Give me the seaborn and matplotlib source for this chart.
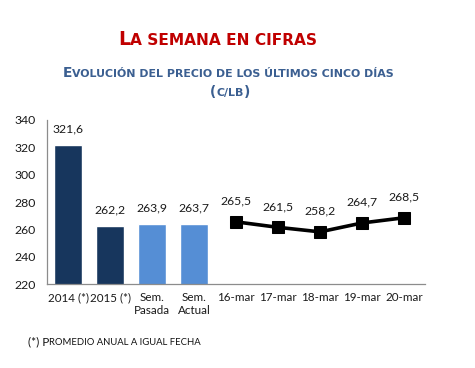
import matplotlib
matplotlib.use("Agg")
import matplotlib.pyplot as plt
import seaborn as sns
import pandas as pd
import numpy as np

# ---- data ----
categories = ["2014 (*)", "2015 (*)", "Sem.\nPasada", "Sem.\nActual",
              "16-mar", "17-mar", "18-mar", "19-mar", "20-mar"]
bar_cats = ["2014 (*)", "2015 (*)", "Sem.\nPasada", "Sem.\nActual"]
bar_values = [321.6, 262.2, 263.9, 263.7]
bar_colors = ["#17365D", "#17365D", "#558ED5", "#558ED5"]
day_cats = ["16-mar", "17-mar", "18-mar", "19-mar", "20-mar"]
day_values = [265.5, 261.5, 258.2, 264.7, 268.5]
yticks = [220, 240, 260, 280, 300, 320, 340]

sns.set_theme(style="white")
plt.rcParams["font.family"] = ["Lato", "DejaVu Sans"]

fig = plt.figure(figsize=(4.75, 3.68), dpi=100)
ax = fig.add_axes([0.099, 0.228, 0.796, 0.446])

df_bars = pd.DataFrame({"cat": bar_cats, "val": bar_values})
sns.barplot(data=df_bars, x="cat", y="val", order=categories, hue="cat",
            hue_order=bar_cats, palette=bar_colors, dodge=False, legend=False,
            width=0.67, saturation=1, ax=ax)

df_line = pd.DataFrame({"x": [categories.index(c) for c in day_cats], "val": day_values})
sns.lineplot(data=df_line, x="x", y="val", color="black", linewidth=2.6,
             marker="s", markersize=8, markeredgecolor="black", ax=ax)

def fmt(v):
    return f"{v:.1f}".replace(".", ",")

for c, v in zip(bar_cats, bar_values):
    ax.annotate(fmt(v), (categories.index(c), v), xytext=(0, 8), textcoords="offset points",
                ha="center", va="bottom", fontsize=8.8, color="#1a1a1a")
for x, v in zip(df_line["x"], day_values):
    ax.annotate(fmt(v), (x, v), xytext=(0, 11), textcoords="offset points",
                ha="center", va="bottom", fontsize=8.8, color="#1a1a1a")

ax.set_ylim(220, 340)
ax.set_xlim(-0.5, len(categories) - 0.5)
ax.set_yticks(yticks)
ax.set_xticks(range(len(categories)))
ax.set_xticklabels(categories)
ax.set_xticks(np.arange(-0.5, len(categories), 1.0), minor=True)
ax.set_xlabel("")
ax.set_ylabel("")
for s in ["top", "right"]:
    ax.spines[s].set_visible(False)
for s in ["left", "bottom"]:
    ax.spines[s].set_color("#8C8C8C")
    ax.spines[s].set_linewidth(0.9)
ax.tick_params(axis="x", which="major", length=0, labelsize=8.4, pad=6, colors="#1a1a1a")
ax.tick_params(axis="x", which="minor", length=5, color="#8C8C8C", width=0.9, direction="out")
ax.tick_params(axis="y", length=4, color="#8C8C8C", width=0.9, direction="out",
               labelsize=8.8, labelcolor="#1a1a1a", pad=4)
ax.grid(False)

# ---- small-caps text helper ----
renderer = fig.canvas.get_renderer()

def small_caps(segments, y, color, family, weight, x=None, center=None):
    texts = []
    widths = []
    for s, size in segments:
        t = fig.text(0, y, s, fontsize=size, color=color, family=family,
                     weight=weight, va="baseline", ha="left")
        texts.append(t)
        widths.append(t.get_window_extent(renderer).width / fig.bbox.width)
    total = sum(widths)
    start = center - total / 2 if center is not None else x
    for t, w in zip(texts, widths):
        t.set_x(start)
        start += w

small_caps([("L", 13.6), ("A SEMANA EN CIFRAS", 11.1)], 1 - 45 / 368, "#C00000",
           ["DejaVu Sans"], "bold", center=218 / 475)
small_caps([("E", 9.9), ("VOLUCIÓN DEL PRECIO DE LOS ÚLTIMOS CINCO DÍAS", 7.9)], 1 - 77 / 368,
           "#3B5F91", ["DejaVu Sans"], "bold", center=228 / 475)
small_caps([("(", 9.9), ("C/LB", 7.9), (")", 9.9)], 1 - 96 / 368,
           "#3B5F91", ["DejaVu Sans"], "bold", center=230 / 475)
small_caps([("(*) P", 8.5), ("ROMEDIO ANUAL A IGUAL FECHA", 6.8)], 1 - 345 / 368,
           "#111111", ["Lato", "DejaVu Sans"], "normal", x=28 / 475)

fig.savefig("out.png", dpi=100, facecolor="white")
